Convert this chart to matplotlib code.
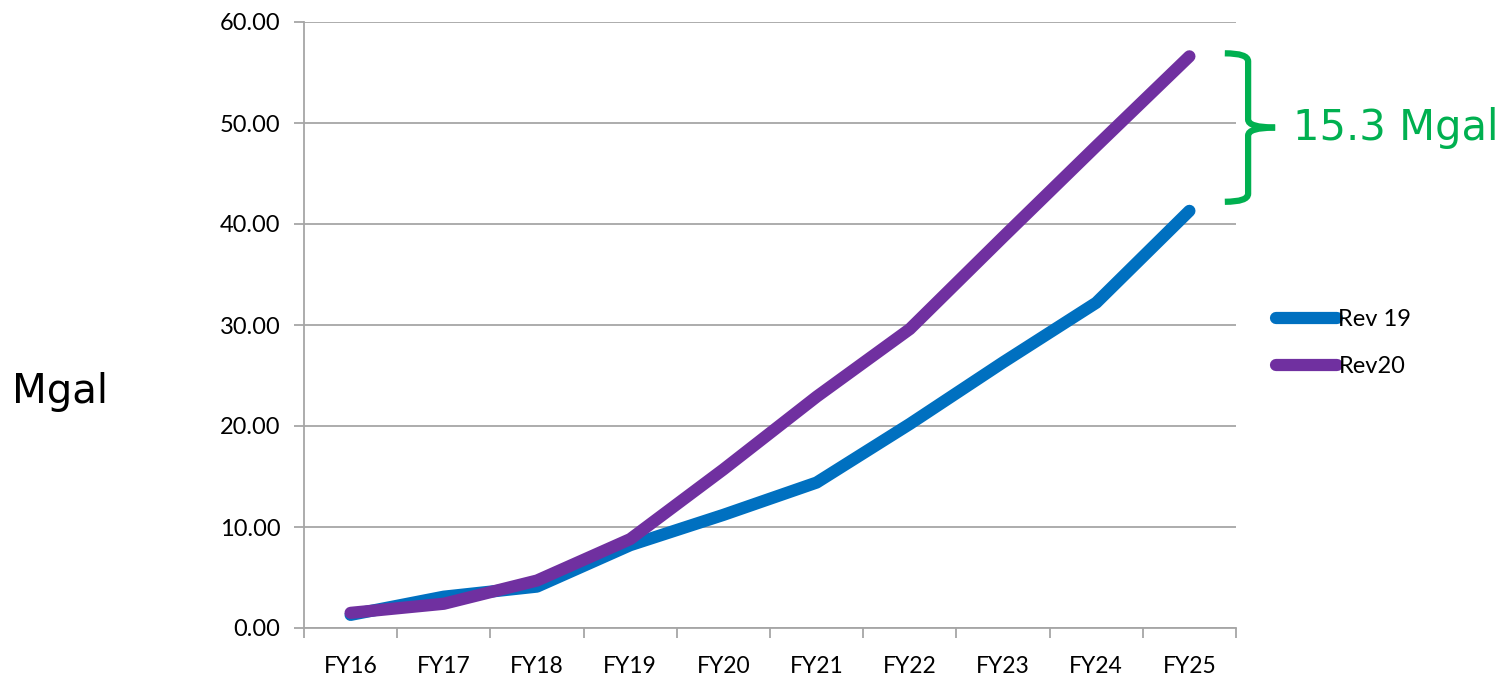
import matplotlib
matplotlib.use("Agg")
import matplotlib.pyplot as plt
from matplotlib.path import Path
from matplotlib.patches import PathPatch
import matplotlib.transforms as mtrans

categories = ["FY16", "FY17", "FY18", "FY19", "FY20", "FY21", "FY22", "FY23", "FY24", "FY25"]
rev19 = [1.3, 3.1, 4.1, 8.2, 11.2, 14.4, 20.2, 26.3, 32.2, 41.3]
rev20 = [1.5, 2.4, 4.7, 8.8, 15.7, 22.9, 29.6, 38.7, 47.7, 56.6]
yticks = [0, 10, 20, 30, 40, 50, 60]
gap_label = "15.3 Mgal"

BLUE = "#0070C0"
PURPLE = "#7030A0"
GREEN = "#00B050"
GRID = "#A6A6A6"

fig = plt.figure(figsize=(15.03, 6.75), dpi=100)
ax = fig.add_axes([304/1503, 47/675, 932/1503, 606/675])

x = list(range(len(categories)))
ax.plot(x, rev19, color=BLUE, lw=8.8, solid_capstyle="round", solid_joinstyle="round", label="Rev 19", zorder=3)
ax.plot(x, rev20, color=PURPLE, lw=8.8, solid_capstyle="round", solid_joinstyle="round", label="Rev20", zorder=4)

ax.set_xlim(-0.5, len(categories) - 0.5)
ax.set_ylim(0, 60)
ax.set_yticks(yticks)
ax.set_yticklabels([f"{v:.2f}" for v in yticks], fontfamily="Lato", fontsize=17)
ax.yaxis.grid(True, color=GRID, lw=1.3)
ax.set_axisbelow(True)

ax.set_xticks([i - 0.5 for i in range(len(categories) + 1)])
ax.set_xticklabels([])
ax.set_xticks(x, minor=True)
ax.set_xticklabels(categories, minor=True, fontfamily="Lato", fontsize=16.5)
ax.tick_params(axis="x", which="major", length=7, color=GRID, width=1.3)
ax.tick_params(axis="x", which="minor", length=0, pad=20)
ax.tick_params(axis="y", length=7, color=GRID, width=1.3, pad=10)

for s in ["top", "right"]:
    ax.spines[s].set_visible(False)
for s in ["left", "bottom"]:
    ax.spines[s].set_color(GRID)
    ax.spines[s].set_linewidth(1.3)

ax.set_ylabel("Mgal", rotation=0, fontfamily="DejaVu Sans", fontsize=29, labelpad=0)
ax.yaxis.set_label_coords(-0.262, 0.357)

leg = ax.legend(loc="center left", bbox_to_anchor=(1.02, 0.47), frameon=False,
                prop={"family": "Lato", "size": 17}, handlelength=2.6, handletextpad=0.05,
                labelspacing=1.1)

# bracket showing the gap at FY25
trans = mtrans.blended_transform_factory(ax.transAxes, ax.transData)
top = rev20[-1] + 0.3
bot = rev19[-1] + 0.9
mid = (top + bot) / 2
xl, xv, xt = 0.988, 1.013, 1.042
r = 0.8
p1 = Path([(xl, top), (xv, top), (xv, top - r), (xv, mid + r), (xv, mid), (xt, mid)],
          [Path.MOVETO, Path.CURVE3, Path.CURVE3, Path.LINETO, Path.CURVE3, Path.CURVE3])
p2 = Path([(xl, bot), (xv, bot), (xv, bot + r), (xv, mid - r), (xv, mid), (xt, mid)],
          [Path.MOVETO, Path.CURVE3, Path.CURVE3, Path.LINETO, Path.CURVE3, Path.CURVE3])
for p in (p1, p2):
    ax.add_patch(PathPatch(p, transform=trans, fill=False, edgecolor=GREEN, lw=4.5,
                           clip_on=False, capstyle="butt"))
ax.text(1.061, mid, gap_label, transform=trans, color=GREEN, fontsize=30,
        fontfamily="DejaVu Sans", va="center", ha="left", clip_on=False)

fig.savefig("out.png", dpi=100)
